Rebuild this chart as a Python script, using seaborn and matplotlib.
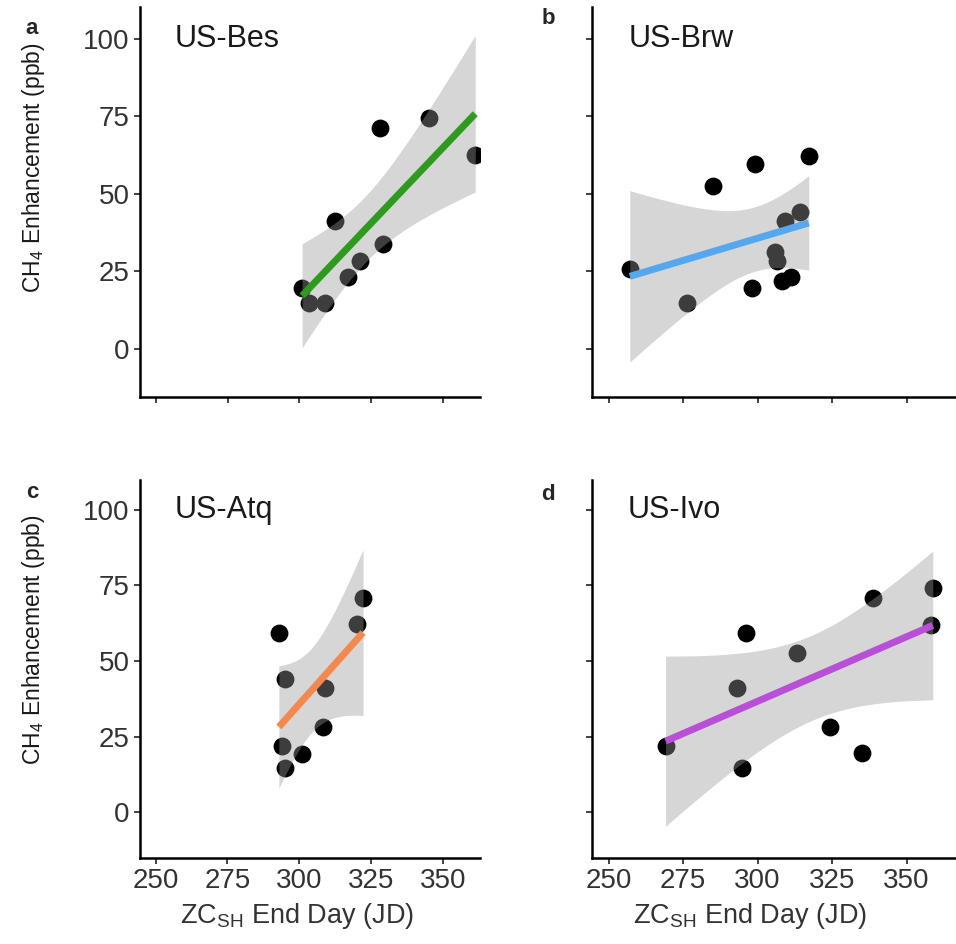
import numpy as np
import pandas as pd
import matplotlib
matplotlib.use('Agg')
import matplotlib.pyplot as plt
from matplotlib.path import Path
from matplotlib.transforms import Affine2D
import seaborn as sns

# site data (end day vs CH4 enhancement)
bes_day = [300.9, 303.3, 309.0, 312.2, 316.8, 321.2, 328.1, 329.0, 345.1, 361.1]
bes_ch4 = [19.6, 14.7, 14.7, 41.4, 23.1, 28.4, 71.2, 33.9, 74.4, 62.6]

brw_day = [257.0, 276.1, 285.0, 297.9, 299.2, 305.9, 306.3, 308.0, 309.1, 311.3, 314.1, 317.1]
brw_ch4 = [25.7, 14.7, 52.6, 19.6, 59.7, 31.4, 28.4, 22.0, 41.4, 23.1, 44.3, 62.4]

atq_day = [292.9, 294.9, 294.1, 294.9, 301.0, 309.1, 308.1, 320.2, 322.2]
atq_ch4 = [59.4, 43.9, 21.9, 14.7, 19.2, 41.0, 28.3, 62.1, 71.0]

ivo_day = [269.1, 293.1, 296.2, 294.9, 313.2, 324.2, 335.0, 338.9, 358.8, 358.1]
ivo_ch4 = [21.9, 41.0, 59.4, 14.7, 52.5, 28.3, 19.4, 71.0, 74.1, 61.9]

sites = ['US-Bes', 'US-Brw', 'US-Atq', 'US-Ivo']
letters = ['a', 'b', 'c', 'd']
colors = ['#2E9B1E', '#55A8EE', '#F4894F', '#B84FD6']
xticks = [250, 275, 300, 325, 350]
yticks = [0, 25, 50, 75, 100]

sns.set_style('ticks')
plt.rcParams['font.family'] = ['Liberation Sans', 'DejaVu Sans']
plt.rcParams['mathtext.fontset'] = 'custom'
plt.rcParams['mathtext.rm'] = 'Liberation Sans'
plt.rcParams['mathtext.it'] = 'Liberation Sans:italic'

W, H = 956, 944
fig = plt.figure(figsize=(W / 100, H / 100), dpi=100)


def px_axes(left, top, right, bottom):
    return fig.add_axes([left / W, 1 - bottom / H, (right - left) / W, (bottom - top) / H])


def ci_band(x, y, grid):
    # analytic 95% confidence band of the linear fit (like geom_smooth(method='lm'))
    x = np.asarray(x); y = np.asarray(y)
    n = len(x)
    b, a = np.polyfit(x, y, 1)
    resid = y - (a + b * x)
    s = np.sqrt(np.sum(resid ** 2) / (n - 2))
    sxx = np.sum((x - x.mean()) ** 2)
    # t quantile 0.975 for df = n - 2
    tq = {7: 2.365, 8: 2.306, 9: 2.262, 10: 2.228}[n - 2]
    se = s * np.sqrt(1 / n + (grid - x.mean()) ** 2 / sxx)
    fit = a + b * grid
    return fit - tq * se, fit + tq * se


# slightly wide ellipse marker like the original
ellipse = Affine2D().scale(1.0, 0.82).transform_path(Path.unit_circle())

frames = [pd.DataFrame({'day': d, 'ch4': c}) for d, c in
          [(bes_day, bes_ch4), (brw_day, brw_ch4), (atq_day, atq_ch4), (ivo_day, ivo_ch4)]]

boxes = [(139.5, 7, 480, 397), (592.3, 7, 956, 397),
         (139.5, 480, 480, 858.3), (591.7, 480, 956, 858.3)]
xlims = [(244.37, 362.76), (244.39, 366.6), (244.4, 362.9), (244.3, 366.6)]
ylims = [(-15.48, 110.3), (-15.48, 110.3), (-15.3, 109.9), (-15.3, 109.9)]

for i, df in enumerate(frames):
    ax = px_axes(*boxes[i])
    sns.regplot(data=df, x='day', y='ch4', ax=ax, ci=None, truncate=True,
                scatter_kws={'color': 'black', 'marker': ellipse, 's': 165,
                             'linewidths': 0, 'alpha': 1},
                line_kws={'color': colors[i], 'lw': 5, 'zorder': 3,
                          'solid_capstyle': 'butt'})
    grid = np.linspace(df['day'].min(), df['day'].max(), 100)
    lo, hi = ci_band(df['day'], df['ch4'], grid)
    ax.fill_between(grid, lo, hi, color='#999999', alpha=0.4, lw=0, zorder=2)

    ax.set_xlim(*xlims[i])
    ax.set_ylim(*ylims[i])
    ax.set_xticks(xticks)
    ax.set_yticks(yticks)
    ax.set_xlabel('')
    ax.set_ylabel('')
    sns.despine(ax=ax)
    for sp in ['left', 'bottom']:
        ax.spines[sp].set_linewidth(1.8)
        ax.spines[sp].set_color('black')
    ax.tick_params(axis='both', length=4.5, width=1.3, color='#333333',
                   labelsize=20, labelcolor='#333333', pad=2.5)
    ax.tick_params(labelbottom=(i >= 2), labelleft=(i % 2 == 0))
    ax.text(256.5, 100, sites[i], fontsize=22, ha='left', va='center', color='#1a1a1a')

# panel letters
for (x, y), letter in zip([(32, 29), (548, 18), (32, 493), (548, 494)], letters):
    fig.text(x / W, 1 - y / H, letter, fontsize=16, fontweight='bold', ha='center', va='center')

# axis titles
for yc in [168, 640]:
    fig.text(34 / W, 1 - yc / H, 'CH$_4$ Enhancement (ppb)', rotation=90,
             ha='center', va='center', fontsize=16.5, color='#1a1a1a')
for xc in [297, 750]:
    fig.text(xc / W, 1 - 916 / H, 'ZC$_{\\mathrm{SH}}$ End Day (JD)',
             ha='center', va='center', fontsize=19.5, color='#333333')

fig.savefig('out.png', dpi=100)
